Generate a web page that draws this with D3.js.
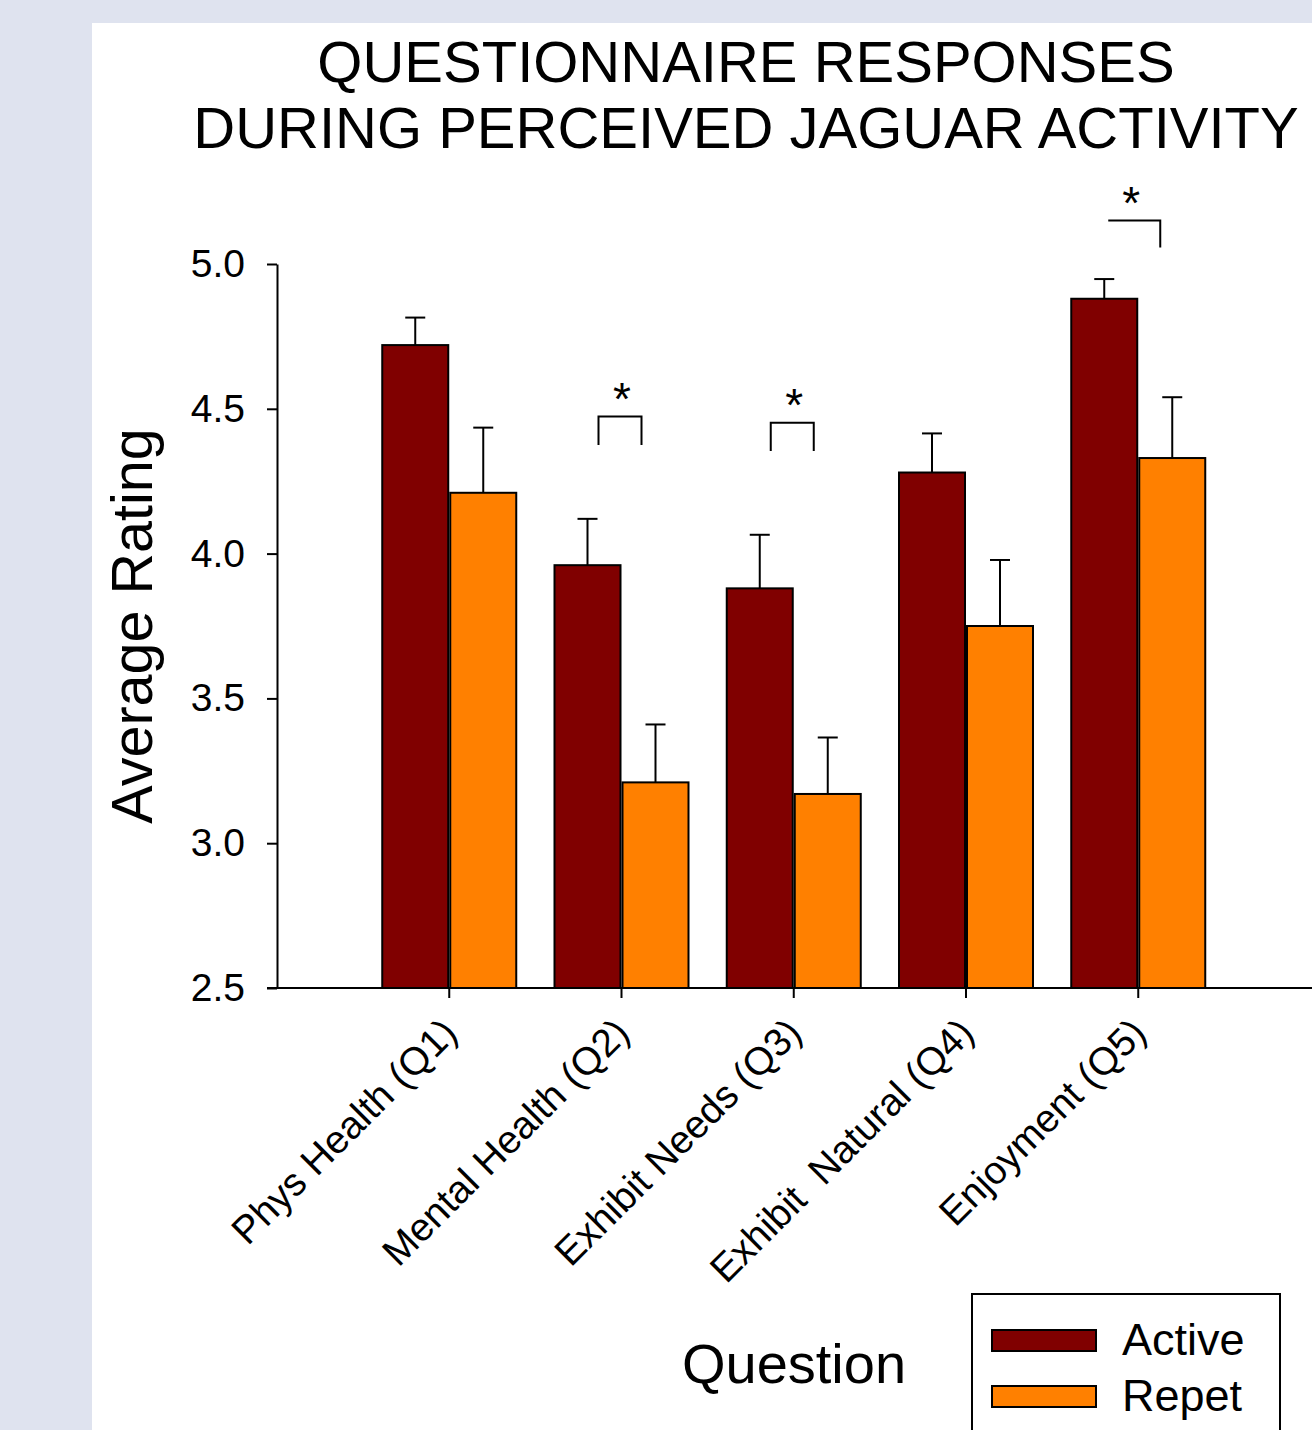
<!DOCTYPE html>
<html>
<head>
<meta charset="utf-8">
<script src="https://cdn.jsdelivr.net/npm/d3@7"></script>
<style>
  html, body { margin: 0; padding: 0; background: #dfe3ef; }
  svg { display: block; font-family: "Liberation Sans", Arial, sans-serif; }
</style>
</head>
<body>
<svg id="chart" width="1312" height="1430"></svg>
<script>
// Questionnaire categories and group means / standard errors
const categories = ["Phys Health (Q1)", "Mental Health (Q2)", "Exhibit Needs (Q3)", "Exhibit  Natural (Q4)", "Enjoyment (Q5)"];
const groups = ["Active", "Repet"];
const activeMeans = [4.72, 3.96, 3.88, 4.28, 4.88];
const activeErr   = [0.095, 0.16, 0.185, 0.135, 0.068];
const repetMeans  = [4.21, 3.21, 3.17, 3.75, 4.33];
const repetErr    = [0.225, 0.2, 0.195, 0.228, 0.21];
const yTicks = [2.5, 3.0, 3.5, 4.0, 4.5, 5.0];

// Significance markers: bracket top, leg bottom, which legs are drawn
const sigCategories = ["Mental Health (Q2)", "Exhibit Needs (Q3)", "Enjoyment (Q5)"];
const sigTop    = [4.473, 4.452, 5.150];
const sigBottom = [4.375, 4.354, 5.057];
const sigLegs   = ["both", "both", "right"];

const colors = { Active: "#800000", Repet: "#ff8000" };

const svg = d3.select("#chart");
const W = 1312, H = 1430;

// page panel
svg.append("rect").attr("x", 92).attr("y", 23).attr("width", W - 92).attr("height", H - 23).attr("fill", "#ffffff");

const plot = { left: 277, right: 1310.5, top: 264, bottom: 988 };

const x = d3.scalePoint().domain(categories).range([plot.left, plot.right]).padding(1);
const xSub = d3.scaleBand().domain(groups).range([-67, 67]).paddingInner(2 / 68);
const y = d3.scaleLinear().domain([2.5, 5.0]).range([plot.bottom, plot.top]);

// title
const title = svg.append("text").attr("text-anchor", "middle").attr("font-size", 58).attr("fill", "#000");
title.append("tspan").attr("x", 746).attr("y", 82).text("QUESTIONNAIRE RESPONSES");
title.append("tspan").attr("x", 746).attr("y", 148).text("DURING PERCEIVED JAGUAR ACTIVITY");

// bar records
const records = [];
categories.forEach((c, i) => {
  records.push({ cat: c, group: "Active", mean: activeMeans[i], err: activeErr[i] });
  records.push({ cat: c, group: "Repet", mean: repetMeans[i], err: repetErr[i] });
});

const cap = 10;
// error bars (drawn first so the bar outline sits over the stem base)
const eb = svg.append("g").attr("stroke", "#000").attr("stroke-width", 2);
records.forEach(r => {
  const cx = x(r.cat) + xSub(r.group) + xSub.bandwidth() / 2;
  eb.append("line").attr("x1", cx).attr("x2", cx).attr("y1", y(r.mean)).attr("y2", y(r.mean + r.err));
  eb.append("line").attr("x1", cx - cap).attr("x2", cx + cap).attr("y1", y(r.mean + r.err)).attr("y2", y(r.mean + r.err));
});

// bars
svg.append("g").selectAll("rect").data(records).join("rect")
  .attr("x", d => x(d.cat) + xSub(d.group))
  .attr("width", xSub.bandwidth())
  .attr("y", d => y(d.mean))
  .attr("height", d => y(2.5) - y(d.mean))
  .attr("fill", d => colors[d.group])
  .attr("stroke", "#000").attr("stroke-width", 2);

// y axis
const yAxis = d3.axisLeft(y).tickValues(yTicks).tickFormat(d3.format(".1f")).tickSizeInner(10).tickSizeOuter(0).tickPadding(22);
const gy = svg.append("g").attr("transform", `translate(${plot.left},0)`).call(yAxis);
gy.select(".domain").attr("stroke", "#000").attr("stroke-width", 2);
gy.selectAll(".tick line").attr("stroke", "#000").attr("stroke-width", 2);
gy.selectAll(".tick text").attr("font-size", 39).attr("fill", "#000").attr("font-family", "Liberation Sans, Arial, sans-serif");

// x axis line extends across the panel
svg.append("line").attr("x1", plot.left - 10).attr("x2", W + 5).attr("y1", plot.bottom).attr("y2", plot.bottom)
  .attr("stroke", "#000").attr("stroke-width", 2);
const gx = svg.append("g");
categories.forEach(c => {
  gx.append("line").attr("x1", x(c)).attr("x2", x(c)).attr("y1", plot.bottom).attr("y2", plot.bottom + 10)
    .attr("stroke", "#000").attr("stroke-width", 2);
  gx.append("text")
    .attr("transform", `translate(${x(c) + 10},${plot.bottom + 47}) rotate(-45)`)
    .attr("text-anchor", "end").attr("font-size", 39).attr("fill", "#000")
    .attr("xml:space", "preserve")
    .style("white-space", "pre")
    .text(c);
});

// axis titles
svg.append("text").attr("transform", `translate(152,626) rotate(-90)`)
  .attr("text-anchor", "middle").attr("font-size", 57.5).attr("fill", "#000").text("Average Rating");
svg.append("text").attr("x", 794).attr("y", 1383)
  .attr("text-anchor", "middle").attr("font-size", 56).attr("fill", "#000").text("Question");

// significance brackets
const sg = svg.append("g");
sigCategories.forEach((c, i) => {
  const half = sigLegs[i] === "right" ? 26 : 21.5;
  const cx = x(c) + (sigLegs[i] === "right" ? -4 : -1.5);
  const xl = cx - half, xr = cx + half;
  const yt = y(sigTop[i]), yb = y(sigBottom[i]);
  let d = sigLegs[i] === "right"
    ? `M${xl},${yt}H${xr}V${yb}`
    : `M${xl},${yb}V${yt}H${xr}V${yb}`;
  sg.append("path").attr("d", d).attr("fill", "none").attr("stroke", "#000").attr("stroke-width", 2);
  sg.append("text").attr("x", sigLegs[i] === "right" ? cx - 3 : cx + 2).attr("y", yt - 2)
    .attr("text-anchor", "middle").attr("font-size", 46).attr("fill", "#000").text("*");
});

// legend
const lg = svg.append("g");
lg.append("rect").attr("x", 972).attr("y", 1294).attr("width", 308).attr("height", 200)
  .attr("fill", "#fff").attr("stroke", "#000").attr("stroke-width", 2);
groups.forEach((g, i) => {
  const yy = 1330 + i * 56;
  lg.append("rect").attr("x", 992).attr("y", yy).attr("width", 104).attr("height", 21)
    .attr("fill", colors[g]).attr("stroke", "#000").attr("stroke-width", 2);
  lg.append("text").attr("x", 1122).attr("y", yy + 25).attr("font-size", 45).attr("fill", "#000").text(g);
});
</script>
</body>
</html>
